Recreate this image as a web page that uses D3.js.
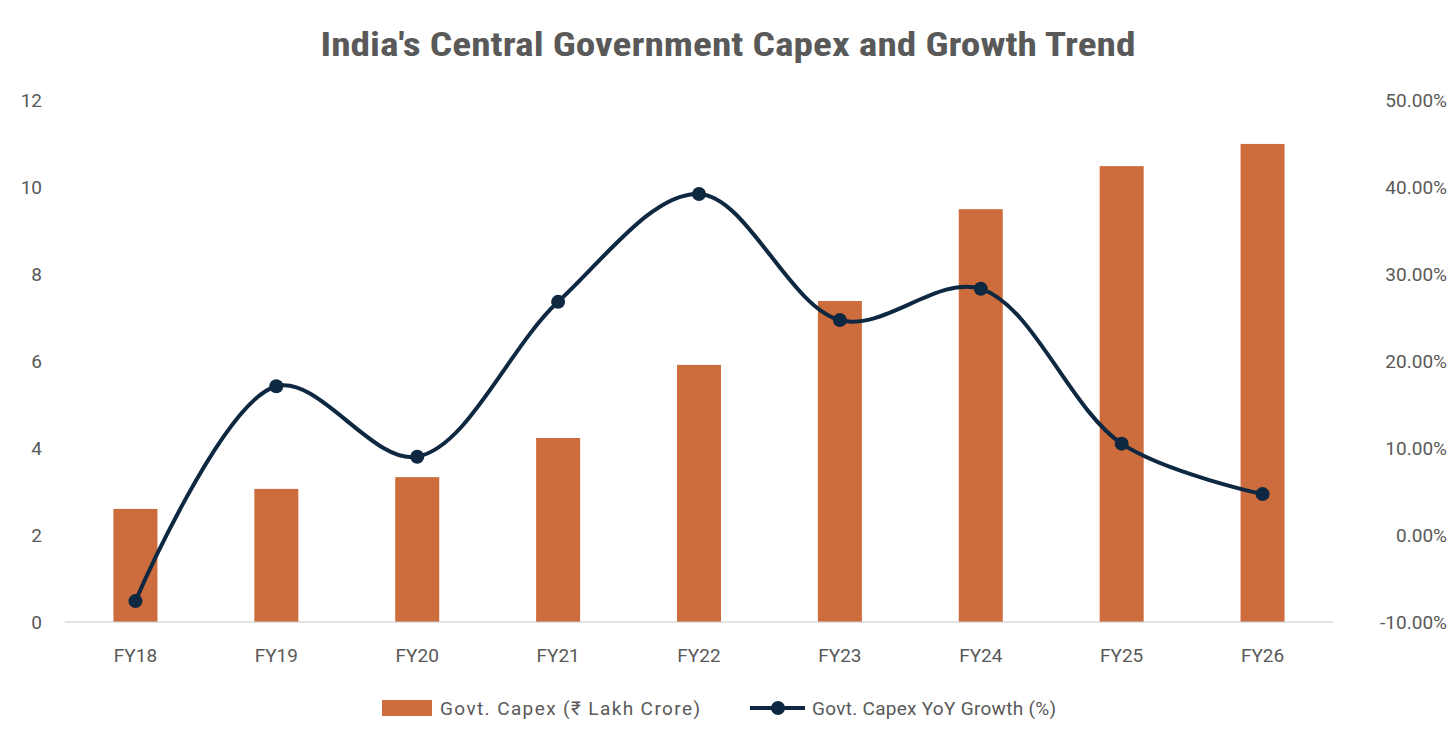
<!DOCTYPE html>
<html>
<head>
<meta charset="utf-8">
<script src="https://cdn.jsdelivr.net/npm/d3@7"></script>
<style>
  body { margin: 0; background: #fff; }
  text { font-family: Roboto, "Noto Sans", sans-serif; fill: #595959; }
</style>
</head>
<body>
<div id="chart"></div>
<script>
const categories = ['FY18', 'FY19', 'FY20', 'FY21', 'FY22', 'FY23', 'FY24', 'FY25', 'FY26']
const capex = [2.6, 3.06, 3.33, 4.23, 5.91, 7.38, 9.49, 10.48, 10.99]
const growth = [-7.6, 17.1, 9.0, 26.8, 39.2, 24.7, 28.3, 10.5, 4.7]
const leftTicks = [0, 2, 4, 6, 8, 10, 12]
const rightTicks = [-10, 0, 10, 20, 30, 40, 50]

const W = 1456
const H = 748
const margin = { top: 100, right: 123, bottom: 126, left: 65 }

const x = d3.scaleBand()
  .domain(categories)
  .range([margin.left, W - margin.right])

const yL = d3.scaleLinear().domain([0, 12]).range([H - margin.bottom, margin.top])
const yR = d3.scaleLinear().domain([-10, 50]).range([H - margin.bottom, margin.top])

const svg = d3.select('#chart')
  .append('svg')
  .attr('width', W)
  .attr('height', H)

svg.append('text')
  .attr('x', W / 2)
  .attr('y', 56)
  .attr('text-anchor', 'middle')
  .attr('textLength', 815)
  .attr('lengthAdjust', 'spacingAndGlyphs')
  .style('font-family', '"Liberation Sans Narrow", "Roboto Condensed", Roboto, sans-serif')
  .style('font-size', '34px')
  .style('font-weight', 'bold')
  .text("India's Central Government Capex and Growth Trend")

// bars
const barW = 44
svg.selectAll('rect.bar')
  .data(categories)
  .enter()
  .append('rect')
  .attr('class', 'bar')
  .attr('x', (d) => x(d) + x.bandwidth() / 2 - barW / 2)
  .attr('width', barW)
  .attr('y', (d, i) => yL(capex[i]))
  .attr('height', (d, i) => yL(0) - yL(capex[i]))
  .attr('fill', '#CD6D3D')

// baseline
svg.append('line')
  .attr('x1', margin.left)
  .attr('x2', W - margin.right)
  .attr('y1', yL(0))
  .attr('y2', yL(0))
  .attr('stroke', '#c8c8c8')
  .attr('stroke-width', 1)

// left axis labels
svg.append('g')
  .selectAll('text')
  .data(leftTicks)
  .enter()
  .append('text')
  .attr('x', 42)
  .attr('y', (d) => yL(d) + 7)
  .attr('text-anchor', 'end')
  .style('font-size', '19px')
  .text((d) => d)

// right axis labels
svg.append('g')
  .selectAll('text')
  .data(rightTicks)
  .enter()
  .append('text')
  .attr('x', 1447)
  .attr('y', (d) => yR(d) + 7)
  .attr('text-anchor', 'end')
  .style('font-size', '19px')
  .text((d) => d.toFixed(2) + '%')

// category labels
svg.append('g')
  .selectAll('text')
  .data(categories)
  .enter()
  .append('text')
  .attr('x', (d) => x(d) + x.bandwidth() / 2)
  .attr('y', 662)
  .attr('text-anchor', 'middle')
  .style('font-size', '19px')
  .text((d) => d)

// growth line
const line = d3.line()
  .x((d, i) => x(categories[i]) + x.bandwidth() / 2)
  .y((d) => yR(d))
  .curve(d3.curveCatmullRom.alpha(0.5))

svg.append('path')
  .datum(growth)
  .attr('d', line)
  .attr('fill', 'none')
  .attr('stroke', '#0E2841')
  .attr('stroke-width', 4)

svg.selectAll('circle.pt')
  .data(growth)
  .enter()
  .append('circle')
  .attr('class', 'pt')
  .attr('cx', (d, i) => x(categories[i]) + x.bandwidth() / 2)
  .attr('cy', (d) => yR(d))
  .attr('r', 7)
  .attr('fill', '#0E2841')

// legend
const lg = svg.append('g')
lg.append('rect')
  .attr('x', 382).attr('y', 700).attr('width', 50).attr('height', 16)
  .attr('fill', '#CD6D3D')
lg.append('text')
  .attr('x', 440).attr('y', 715)
  .attr('textLength', 260)
  .style('font-size', '19px')
  .text('Govt. Capex (₹ Lakh Crore)')
lg.append('line')
  .attr('x1', 750).attr('x2', 805).attr('y1', 708).attr('y2', 708)
  .attr('stroke', '#0E2841').attr('stroke-width', 4)
lg.append('circle')
  .attr('cx', 778).attr('cy', 708).attr('r', 7)
  .attr('fill', '#0E2841')
lg.append('text')
  .attr('x', 812).attr('y', 715)
  .attr('textLength', 244)
  .style('font-size', '19px')
  .text('Govt. Capex YoY Growth (%)')
</script>
</body>
</html>
